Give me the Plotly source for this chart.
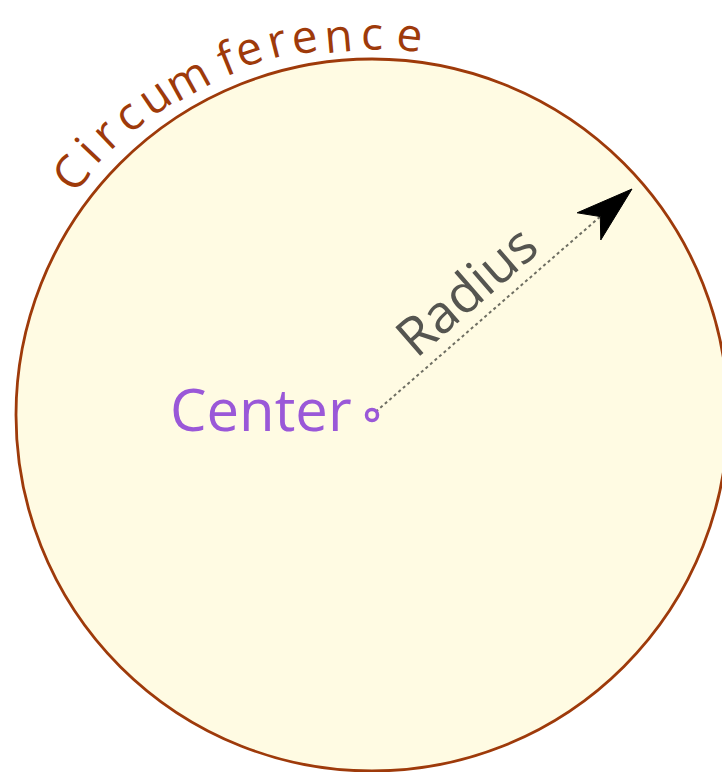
import math
import plotly.graph_objects as go

# ---- data (pixel-space coordinates of the diagram) ----
circle_center = [372, 415]
circle_radius = [356]
arrow_tip = [632, 189]

circ_letters = ["C", "i", "r", "c", "u", "m", "f", "e", "r", "e", "n", "c", "e"]
circ_angles = [141.2, 137.0, 133.4, 129.2, 124.4, 118.8, 112.1, 108.6, 104.3, 100.1, 95.1, 90.0, 84.3]
circ_radii = [388, 390, 389, 388, 388, 386, 386, 388, 388, 386, 383, 383, 384]

labels = ["Center", "Radius", "Circumference"]
radius_label_pos = [465, 289]
center_label_pos = [354, 408]

BROWN = "#9E3A0A"
FILL = "#FFFBE3"
PURPLE = "#9A58D8"
GREY = "#555550"
FONT = "Open Sans"

cx, cy = circle_center
R = circle_radius[0]

fig = go.Figure()

# circle
fig.add_shape(type="circle", xref="x", yref="y",
              x0=cx - R, y0=cy - R, x1=cx + R, y1=cy + R,
              line=dict(color=BROWN, width=2.8), fillcolor=FILL, layer="below")

# radius dashed line
tx, ty = arrow_tip
dx, dy = tx - cx, ty - cy
L = math.hypot(dx, dy)
ux, uy = dx / L, dy / L
px, py = -uy, ux
notch = (tx - 42 * ux, ty - 42 * uy)
fig.add_trace(go.Scatter(x=[cx + 5 * ux, notch[0]], y=[cy + 5 * uy, notch[1]],
                         mode="lines", line=dict(color="#6E6E62", width=2, dash="3px,3px"),
                         hoverinfo="skip", showlegend=False))
# arrowhead
b1 = (tx - 57 * ux - 18 * px, ty - 57 * uy - 18 * py)
b2 = (tx - 57 * ux + 18 * px, ty - 57 * uy + 18 * py)
fig.add_trace(go.Scatter(x=[tx, b1[0], notch[0], b2[0], tx], y=[ty, b1[1], notch[1], b2[1], ty],
                         mode="lines", fill="toself", fillcolor="#000000",
                         line=dict(color="#000000", width=1), hoverinfo="skip", showlegend=False))
# center point
fig.add_trace(go.Scatter(x=[cx], y=[cy], mode="markers",
                         marker=dict(symbol="circle-open", size=11, color=PURPLE, line=dict(width=3.5, color=PURPLE)),
                         hoverinfo="skip", showlegend=False))

# Center label
fig.add_annotation(x=center_label_pos[0], y=center_label_pos[1], text=labels[0], showarrow=False,
                   xanchor="right", yanchor="middle",
                   font=dict(family=FONT, size=58, color=PURPLE))
# Radius label
ang = math.degrees(math.atan2(-dy, dx))
fig.add_annotation(x=radius_label_pos[0], y=radius_label_pos[1], text=labels[1], showarrow=False,
                   xanchor="center", yanchor="middle", textangle=-ang,
                   font=dict(family=FONT, size=53, color=GREY))
# Circumference letters
for ch, a, r in zip(circ_letters, circ_angles, circ_radii):
    t = math.radians(a)
    fig.add_annotation(x=cx + r * math.cos(t), y=cy - r * math.sin(t), text=ch, showarrow=False,
                       xanchor="center", yanchor="middle", textangle=90 - a,
                       font=dict(family=FONT, size=46, color=BROWN))

fig.update_layout(width=722, height=772, margin=dict(l=0, r=0, t=0, b=0),
                  paper_bgcolor="white", plot_bgcolor="white",
                  xaxis=dict(range=[0, 722], visible=False, fixedrange=True),
                  yaxis=dict(range=[772, 0], visible=False, fixedrange=True),
                  showlegend=False)

fig.write_html("out.html", config={"displayModeBar": False},
               post_script="document.body.style.margin='0';document.body.style.overflow='hidden';")
